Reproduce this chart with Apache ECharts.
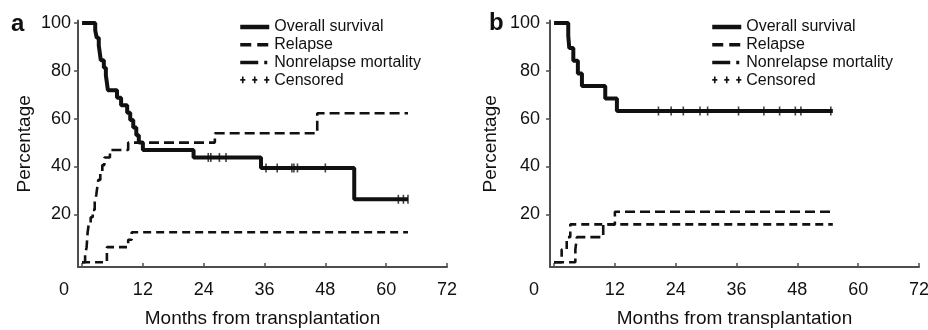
<!DOCTYPE html>
<html>
<head>
<meta charset="utf-8">
<script src="https://cdn.jsdelivr.net/npm/echarts@6/dist/echarts.min.js"></script>
<style>
  html, body { margin: 0; padding: 0; background: #fff; }
  #chart { width: 928px; height: 330px; }
</style>
</head>
<body>
<div id="chart"></div>
<script>
// x ticks (months) and y ticks (percentage)
const xTicks = [0, 12, 24, 36, 48, 60, 72];
const yTicks = [20, 40, 60, 80, 100];
const legendNames = ["Overall survival", "Relapse", "Nonrelapse mortality", "Censored"];

// panel a : [month, percentage] (value from that month onward)
const osA = [[0, 100], [2.6, 96.9], [2.9, 93.8], [3.3, 90.6], [3.5, 87.5], [3.7, 84.4], [4.3, 81.3],
  [4.7, 78.1], [4.9, 75], [5.1, 71.9], [6.9, 68.8], [7.7, 65.6], [8.9, 62.5], [9.5, 59.4],
  [10.1, 56.3], [10.7, 53.1], [11.2, 50], [12.0, 46.9], [22.0, 43.8], [35.3, 39.4],
  [53.7, 26.3], [64.3, 26.3]];
const relapseA = [[0, 0], [0.6, 3.1], [0.9, 6.3], [1.0, 9.4], [1.1, 12.5], [1.3, 15.6], [1.7, 18.8],
  [2.1, 21.9], [2.5, 25], [2.8, 28.1], [3.0, 31.3], [3.2, 34.4], [3.6, 37.5], [4.0, 40.6],
  [4.4, 43.8], [5.5, 46.9], [9.1, 50], [26.2, 53.9], [46.4, 62.3], [64.3, 62.3]];
const nrmA = [[0, 0], [4.9, 6.3], [9.1, 9.4], [9.8, 12.5], [64.3, 12.5]];
const censoredA = [[24.9, 43.8], [25.4, 43.8], [27.1, 43.8], [28.4, 43.8], [36.3, 39.4], [38.5, 39.4],
  [41.4, 39.4], [41.8, 39.4], [42.5, 39.4], [48.0, 39.4], [62.4, 26.3], [63.4, 26.3], [64.3, 26.3]];

// panel b
const osB = [[0, 100], [2.8, 94.7], [3.0, 89.5], [3.8, 84.2], [4.7, 78.9], [5.5, 73.7],
  [10.1, 68.4], [12.4, 63.2], [55, 63.2]];
const relapseB = [[0, 0], [4.2, 5.3], [4.5, 10.5], [9.7, 15.8], [12.0, 21.1], [55, 21.1]];
const nrmB = [[0, 0], [1.5, 5.3], [2.5, 10.5], [3.2, 15.8], [55, 15.8]];
const censoredB = [[20.6, 63.2], [23.1, 63.2], [25.5, 63.2], [28.8, 63.2], [30.3, 63.2], [36.4, 63.2],
  [41.4, 63.2], [44.5, 63.2], [47.6, 63.2], [48.7, 63.2], [54.6, 63.2]];

const FONT = "'Liberation Sans', Arial, Helvetica, sans-serif";
const INK = "#111";
const AXIS = "#4d4d4d";

const myChart = echarts.init(document.getElementById("chart"));

function xAxisOf(idx, zeroShift) {
  return {
    type: "value",
    gridIndex: idx,
    min: -0.8,
    max: 72,
    name: "Months from transplantation",
    nameLocation: "middle",
    nameGap: 42,
    nameTextStyle: { fontFamily: FONT, fontSize: 19, color: INK },
    axisLine: { onZero: false, lineStyle: { color: AXIS, width: 2 } },
    axisTick: { inside: true, length: 4, customValues: xTicks, lineStyle: { color: AXIS, width: 1.5 } },
    axisLabel: {
      customValues: xTicks,
      margin: 14,
      fontFamily: FONT,
      fontSize: 18,
      color: INK,
      formatter: v => (v === 0 ? "{z|0}" : v),
      rich: { z: { fontFamily: FONT, fontSize: 18, color: INK, padding: [0, zeroShift * 2, 0, 0] } }
    },
    splitLine: { show: false }
  };
}

function yAxisOf(idx, labelMargin, nameGap) {
  return {
    type: "value",
    gridIndex: idx,
    min: -2,
    max: 101,
    name: "Percentage",
    nameLocation: "middle",
    nameGap: nameGap,
    nameTextStyle: { fontFamily: FONT, fontSize: 19, color: INK },
    axisLine: { show: true, onZero: false, lineStyle: { color: AXIS, width: 2 } },
    axisTick: { show: true, length: 4, customValues: yTicks, lineStyle: { color: AXIS, width: 1.5 } },
    axisLabel: { customValues: yTicks, margin: labelMargin, fontFamily: FONT, fontSize: 18, color: INK },
    splitLine: { show: false }
  };
}

function panelSeries(idx, os, rel, nrm, cens) {
  return [
    {
      name: "Relapse", type: "line", xAxisIndex: idx, yAxisIndex: idx, step: "end",
      symbol: "none", data: rel, z: 3, itemStyle: { color: INK },
      lineStyle: { color: INK, width: 2.6, type: [10, 5] }
    },
    {
      name: "Nonrelapse mortality", type: "line", xAxisIndex: idx, yAxisIndex: idx, step: "end",
      symbol: "none", data: nrm, z: 3, itemStyle: { color: INK },
      lineStyle: { color: INK, width: 2.6, type: [8, 5] }
    },
    {
      name: "Overall survival", type: "line", xAxisIndex: idx, yAxisIndex: idx, step: "end",
      symbol: "none", data: os, z: 4, itemStyle: { color: INK },
      lineStyle: { color: INK, width: 4 }
    },
    {
      name: "Censored", type: "scatter", xAxisIndex: idx, yAxisIndex: idx,
      symbol: "rect", symbolSize: [1.6, 9], data: cens, z: 5,
      itemStyle: { color: INK }
    }
  ];
}

const plusIcon = "path://M0,4h5v1.6h-5zM1.7,1.5h1.6v6.6h-1.6z" +
  "M12,4h5v1.6h-5zM13.7,1.5h1.6v6.6h-1.6z" +
  "M24,4h5v1.6h-5zM25.7,1.5h1.6v6.6h-1.6zM0,0h0.01v0.01h-0.01zM28.99,9.99h0.01v0.01h-0.01z";

function legendOf(left) {
  const hidden = { opacity: 0 };
  return {
    left: left,
    top: 19,
    orient: "vertical",
    padding: 0,
    itemWidth: 29,
    itemHeight: 10,
    itemGap: 1.7,
    selectedMode: false,
    textStyle: { fontFamily: FONT, fontSize: 16, color: INK },
    data: [
      { name: legendNames[0], itemStyle: hidden, lineStyle: { color: INK, width: 4.5, type: "solid" } },
      { name: legendNames[1], itemStyle: hidden, lineStyle: { color: INK, width: 3.5, type: [11, 6] } },
      { name: legendNames[2], itemStyle: hidden, lineStyle: { color: INK, width: 3.5, type: [18, 6, 3, 10] } },
      { name: legendNames[3], icon: plusIcon, itemStyle: { color: INK, opacity: 1 } }
    ]
  };
}

const option = {
  animation: false,
  title: [
    { text: "a", left: 11, top: 12, padding: 0, textStyle: { fontFamily: FONT, fontSize: 24, fontWeight: "bold", color: INK } },
    { text: "b", left: 489, top: 11, padding: 0, textStyle: { fontFamily: FONT, fontSize: 24, fontWeight: "bold", color: INK } }
  ],
  legend: [legendOf(238), legendOf(710)],
  grid: [
    { left: 78, top: 20.6, width: 369, height: 246.4, outerBoundsMode: "none" },
    { left: 550, top: 20.6, width: 369, height: 246.4, outerBoundsMode: "none" }
  ],
  xAxis: [xAxisOf(0, 18), xAxisOf(1, 20)],
  yAxis: [yAxisOf(0, 7, 44), yAxisOf(1, 10, 50)],
  series: [].concat(
    panelSeries(0, osA, relapseA, nrmA, censoredA),
    panelSeries(1, osB, relapseB, nrmB, censoredB)
  )
};

myChart.setOption(option);
window.addEventListener("resize", () => myChart.resize());
</script>
</body>
</html>
